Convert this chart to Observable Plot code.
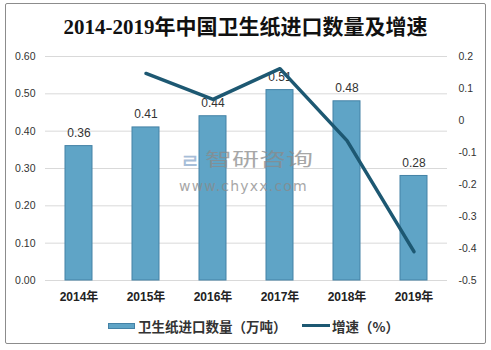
<!DOCTYPE html>
<html>
<head>
<meta charset="utf-8">
<script src="https://cdn.jsdelivr.net/npm/d3@7"></script>
<script src="https://cdn.jsdelivr.net/npm/@observablehq/plot@0.6"></script>
<style>
  body { margin: 0; background: #fff; }
  #frame { position: absolute; left: 5px; top: 3px; width: 479px; height: 339px; border: 1px solid #8c8c8c; border-radius: 2px; }
  #title { position: absolute; top: 10px; left: 0; width: 491px; text-align: center; font: bold 21px "Liberation Serif", "Noto Sans CJK SC", serif; color: #111; white-space: nowrap; }
  #chart { position: absolute; left: 0; top: 40px; }
  #chart [aria-label="x-axis tick label"] { font-weight: bold; font-size: 12px; fill: #222; }
  #legend { position: absolute; top: 316px; left: 0; width: 491px; font: bold 13.5px "Noto Sans CJK SC", sans-serif; color: #333; }
  .lg { position: absolute; top: 0; white-space: nowrap; }
  .sw-bar { position: absolute; top: 7px; width: 27px; height: 6px; background: #5fa4c6; border: 1px solid #4482a6; box-sizing: border-box; }
  .sw-line { position: absolute; top: 8px; width: 28px; height: 3px; background: #1d5872; }
  #wm { position: absolute; left: 0; top: 0; pointer-events: none; opacity: 0.75; white-space: nowrap; }
  #wm div { white-space: nowrap; }
</style>
</head>
<body>
<div id="frame"></div>
<div id="title">2014-2019年中国卫生纸进口数量及增速</div>
<div id="chart"></div>
<div id="wm">
  <div style="position:absolute;left:180px;top:148px;color:#8aa9cc;font:bold 20px 'Liberation Sans';">ㄹ</div>
  <div style="position:absolute;left:205px;top:145px;font:18px 'Noto Sans CJK SC';color:#8a8a8a;transform-origin:0 0;transform:scaleX(1.5);">智研咨询</div>
  <div style="position:absolute;left:179px;top:178px;font:14px 'DejaVu Sans';color:#8a8a8a;letter-spacing:1.2px;">www.chyxx.com</div>
</div>
<div id="legend">
  <div class="sw-bar" style="left:108px"></div>
  <div class="lg" style="left:138px">卫生纸进口数量（万吨）</div>
  <div class="sw-line" style="left:302px"></div>
  <div class="lg" style="left:332px">增速（%）</div>
</div>
<script>
const years = ["2014年", "2015年", "2016年", "2017年", "2018年", "2019年"];
const volume = [0.36, 0.41, 0.44, 0.51, 0.48, 0.28];
const growth = [null, 0.147, 0.066, 0.162, -0.063, -0.41];
const leftTicks = [0, 0.1, 0.2, 0.3, 0.4, 0.5, 0.6];
const rightTicks = [-0.5, -0.4, -0.3, -0.2, -0.1, 0, 0.1, 0.2];

// right axis (-0.5..0.2) mapped onto left axis (0..0.6)
const toLeft = r => (r + 0.5) * 0.6 / 0.7;
const fromLeft = l => l * 0.7 / 0.6 - 0.5;

const bars = years.map((y, i) => ({year: y, v: volume[i]}));
const line = years.map((y, i) => ({year: y, g: growth[i]})).filter(d => d.g != null);

const chart = Plot.plot({
  width: 491,
  height: 270,
  marginTop: 16,
  marginBottom: 30,
  marginLeft: 45,
  marginRight: 44,
  style: {fontFamily: "'Liberation Sans', 'Noto Sans CJK SC', sans-serif", fontSize: "10.5px", color: "#333", background: "transparent"},
  x: {domain: years, paddingInner: 0.6, paddingOuter: 0.3, label: null},
  y: {domain: [0, 0.6], label: null},
  marks: [
    Plot.ruleY(leftTicks, {stroke: "#d9d9d9", strokeWidth: 1}),
    Plot.axisY(leftTicks, {anchor: "left", tickSize: 0, tickPadding: 10, tickFormat: d3.format(".2f"), label: null}),
    Plot.axisY(rightTicks.map(toLeft), {anchor: "right", tickSize: 0, tickPadding: 11, label: null,
      tickFormat: d => { const v = Math.round(fromLeft(d) * 10) / 10; return String(v); }}),
    Plot.axisX({tickSize: 0, tickPadding: 12, label: null}),
    Plot.barY(bars, {x: "year", y: "v", fill: "#5fa4c6", stroke: "#4482a6", strokeWidth: 1}),
    Plot.text(bars, {x: "year", y: "v", text: d => d.v.toFixed(2), dy: -13, fontSize: 12, fill: "#333"}),
    Plot.line(line, {x: "year", y: d => toLeft(d.g), stroke: "#1d5872", strokeWidth: 3.5})
  ]
});
document.getElementById("chart").appendChild(chart);
</script>
</body>
</html>
